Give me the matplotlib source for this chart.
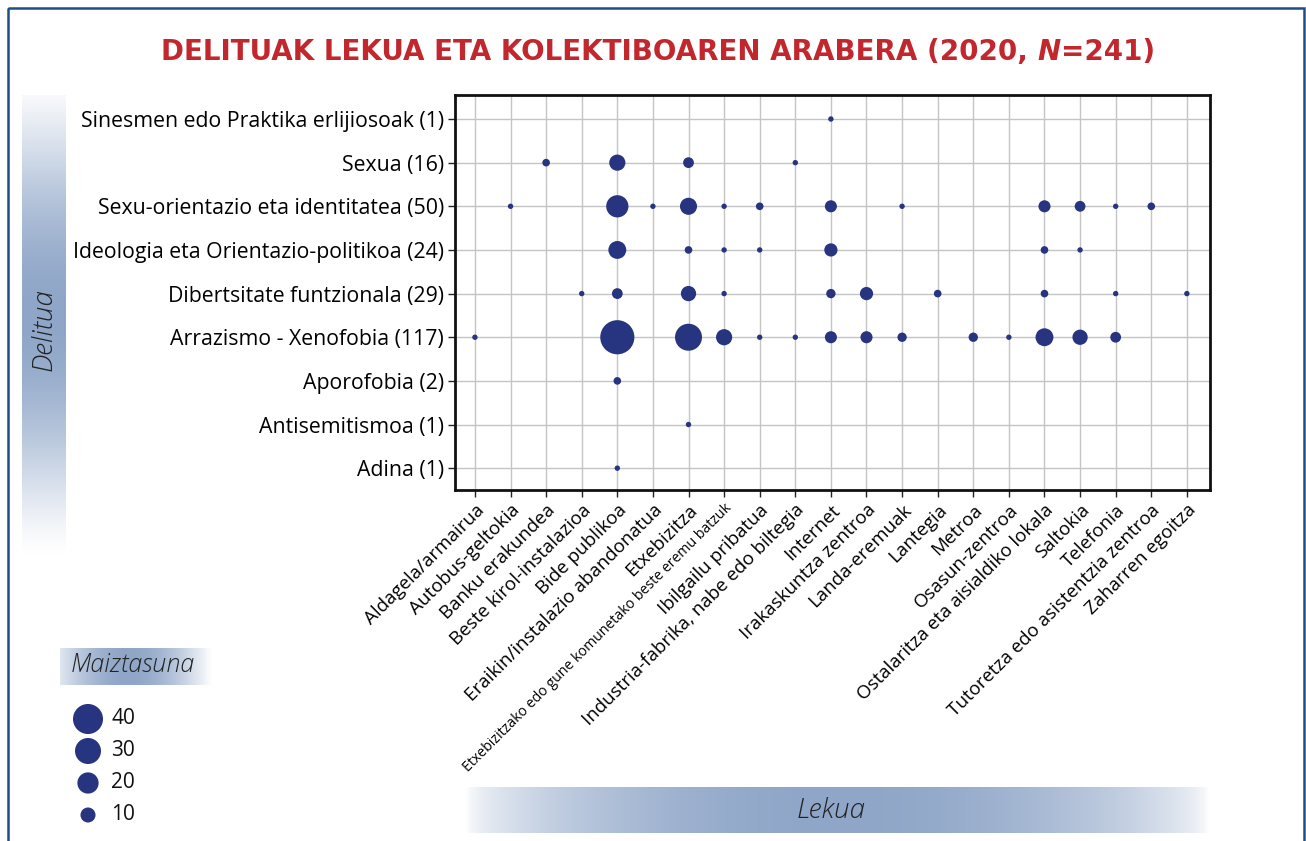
import numpy as np
import matplotlib
matplotlib.use("Agg")
import matplotlib.pyplot as plt
from matplotlib import font_manager
from matplotlib.patches import Rectangle

# categories
lekuak = [
    "Aldagela/armairua", "Autobus-geltokia", "Banku erakundea",
    "Beste kirol-instalazioa", "Bide publikoa",
    "Eraikin/instalazio abandonatua", "Etxebizitza",
    "Etxebizitzako edo gune komunetako beste eremu batzuk",
    "Ibilgailu pribatua", "Industria-fabrika, nabe edo biltegia",
    "Internet", "Irakaskuntza zentroa", "Landa-eremuak", "Lantegia",
    "Metroa", "Osasun-zentroa", "Ostalaritza eta aisialdiko lokala",
    "Saltokia", "Telefonia", "Tutoretza edo asistentzia zentroa",
    "Zaharren egoitza",
]

# bottom -> top
delituak = [
    "Adina (1)", "Antisemitismoa (1)", "Aporofobia (2)",
    "Arrazismo - Xenofobia (117)", "Dibertsitate funtzionala (29)",
    "Ideologia eta Orientazio-politikoa (24)",
    "Sexu-orientazio eta identitatea (50)", "Sexua (16)",
    "Sinesmen edo Praktika erlijiosoak (1)",
]

# counts per delitua, one value per lekua
adina        = [0, 0, 0, 0, 1, 0, 0, 0, 0, 0, 0, 0, 0, 0, 0, 0, 0, 0, 0, 0, 0]
antisemit    = [0, 0, 0, 0, 0, 0, 1, 0, 0, 0, 0, 0, 0, 0, 0, 0, 0, 0, 0, 0, 0]
aporofobia   = [0, 0, 0, 0, 2, 0, 0, 0, 0, 0, 0, 0, 0, 0, 0, 0, 0, 0, 0, 0, 0]
arrazismo    = [1, 0, 0, 0, 40, 0, 25, 9, 1, 1, 5, 5, 3, 0, 3, 1, 11, 8, 4, 0, 0]
dibertsitate = [0, 0, 0, 1, 4, 0, 8, 1, 0, 0, 3, 6, 0, 2, 0, 0, 2, 0, 1, 0, 1]
ideologia    = [0, 0, 0, 0, 11, 0, 2, 1, 1, 0, 6, 0, 0, 0, 0, 0, 2, 1, 0, 0, 0]
sexu_orient  = [0, 1, 0, 0, 17, 1, 10, 1, 2, 0, 5, 0, 1, 0, 0, 0, 5, 4, 1, 2, 0]
sexua        = [0, 0, 2, 0, 9, 0, 4, 0, 0, 1, 0, 0, 0, 0, 0, 0, 0, 0, 0, 0, 0]
sinesmen     = [0, 0, 0, 0, 0, 0, 0, 0, 0, 0, 1, 0, 0, 0, 0, 0, 0, 0, 0, 0, 0]

rows = [adina, antisemit, aporofobia, arrazismo, dibertsitate,
        ideologia, sexu_orient, sexua, sinesmen]

legend_values = [40, 30, 20, 10]

NAVY = "#27347f"
RED = "#c1272d"
PEAK = np.array([143, 166, 200]) / 255.0

names = {f.name for f in font_manager.fontManager.ttflist}
BODY = "Open Sans" if "Open Sans" in names else "DejaVu Sans"
TITLE = "DejaVu Sans"

W, H = 1306, 841
fig = plt.figure(figsize=(W / 100, H / 100), dpi=100)

# background layer in pixel coords
bg = fig.add_axes([0, 0, 1, 1], zorder=-1)
bg.axis("off")


def gradient_bar(x0, x1, y0, y1, vertical=False, power=0.7):
    n = 256
    u = np.linspace(0, 1, n)
    t = np.sin(np.pi * u) ** power
    col = 1 - t[:, None] * (1 - PEAK[None, :])
    if vertical:
        img = col[:, None, :]
    else:
        img = col[None, :, :]
    bg.imshow(img, extent=[x0, x1, y1, y0], aspect="auto", interpolation="bilinear")


gradient_bar(22, 66, 75, 555, vertical=True, power=1.3)
gradient_bar(465, 1210, 787, 833, power=0.6)
gradient_bar(45, 212, 648, 685, power=1.0)
bg.add_patch(Rectangle((22, 40), 44, 55, facecolor="white", edgecolor="none", zorder=2))
bg.add_patch(Rectangle((20, 640), 40, 50, facecolor="white", edgecolor="none", zorder=2))
bg.set_xlim(0, W)
bg.set_ylim(H, 0)

bg.add_patch(Rectangle((8, 8), 1296, 900, fill=False, edgecolor="#1f4e85", lw=1.8, zorder=3))

bg.text(44, 330, "Delitua", rotation=90, ha="center", va="center",
        fontsize=20, style="italic", family=BODY, color="#222222", fontweight="light")
bg.text(831, 810, "Lekua", ha="center", va="center",
        fontsize=20, style="italic", family=BODY, color="#222222", fontweight="light")
bg.text(133, 665, "Maiztasuna", ha="center", va="center",
        fontsize=18, style="italic", family=BODY, color="#222222", fontweight="light")

# legend circles
for i, v in enumerate(legend_values):
    y = 719 + i * 32
    bg.scatter([88], [y], s=[11.7 * v], color=NAVY, edgecolors="none", zorder=4)
    bg.text(111, y, str(v), ha="left", va="center", fontsize=15, family=BODY, color="#111111")

# title made of pieces so N can be italic
parts = [("DELITUAK LEKUA ETA KOLEKTIBOAREN ARABERA (2020, ", "normal"),
         ("N", "italic"), ("=241)", "normal")]
fig.canvas.draw()
renderer = fig.canvas.get_renderer()
texts = []
total = 0
for s, st in parts:
    t = fig.text(0, 0, s, fontsize=20, fontweight="bold", style=st,
                 family=TITLE, color=RED, va="center", ha="left")
    w = t.get_window_extent(renderer).width
    texts.append((t, w))
    total += w
x = (658 - total / 2)
for t, w in texts:
    t.set_position((x / W, 1 - 52 / H))
    x += w

# main plot
ax = fig.add_axes([455 / W, 1 - 490 / H, (1210 - 455) / W, (490 - 95) / H])
ax.set_facecolor("white")
for j, vals in enumerate(rows):
    xs = [i for i, v in enumerate(vals) if v > 0]
    vs = [v for v in vals if v > 0]
    ax.scatter(xs, [j] * len(xs), s=[15.1 * v for v in vs], color=NAVY,
               edgecolors="none", zorder=3)

ax.set_xlim(-0.56, len(lekuak) - 1 + 0.65)
ax.set_ylim(-0.5, len(delituak) - 1 + 0.55)
ax.set_xticks(range(len(lekuak)))
ax.set_yticks(range(len(delituak)))
ax.set_yticklabels(delituak, fontsize=15.3, family=BODY)
ax.set_xticklabels(lekuak, fontsize=13.5, family=BODY, rotation=45,
                   ha="right", va="top", rotation_mode="anchor")
for lab in ax.get_xticklabels():
    if len(lab.get_text()) > 40:
        lab.set_fontsize(10.2)
ax.grid(True, color="#c4c4c4", lw=1, zorder=0)
ax.set_axisbelow(True)
ax.tick_params(length=5, width=1, pad=3, color="#222222")
for sp in ax.spines.values():
    sp.set_linewidth(2)
    sp.set_color("#111111")

fig.savefig("out.png", dpi=100)
